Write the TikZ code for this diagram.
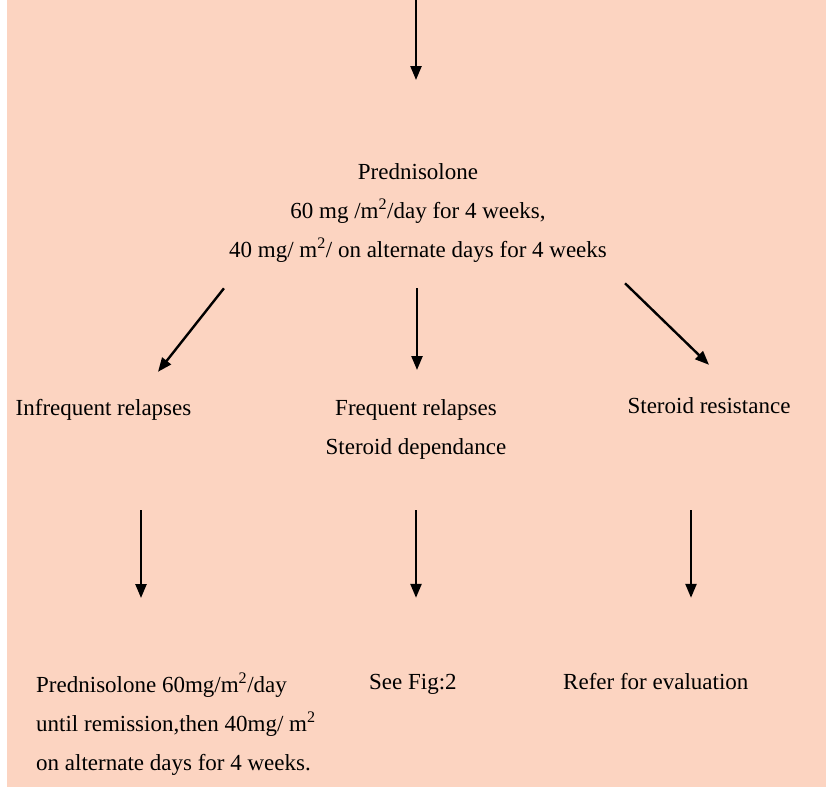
\documentclass[tikz,border=0pt]{standalone}
\definecolor{peachbg}{RGB}{252, 212, 193}
\usepackage{fontspec}
\setmainfont{Liberation Serif}
\usepackage{tikz}
\usetikzlibrary{arrows.meta}

\begin{document}
\begin{tikzpicture}[x=1pt, y=1pt,
    txt/.style={inner sep=0pt, font=\fontsize{23}{39}\selectfont},
    oneline/.style={txt, text height=16pt, text depth=5pt},
    arr/.style={-{Triangle[length=14pt, width=11pt]}, line width=2.4pt, black}]
      \useasboundingbox (0,0) rectangle (826,-787);
      \fill[peachbg] (7,0) rectangle (826,-787);

      \coordinate (entry) at (416,0);
      \node (pred) [txt, align=center, anchor=north] at (418,-163) {Prednisolone\\60 mg /m\textsuperscript{2}/day for 4 weeks,\\40 mg/ m\textsuperscript{2}/ on alternate days for 4 weeks};
      \node (infreq) [oneline, anchor=base] at (103.5,-415) {Infrequent relapses};
      \node (freq) [txt, align=center, anchor=north] at (416,-399) {Frequent relapses\\Steroid dependance};
      \node (resist) [oneline, anchor=base] at (709,-413) {Steroid resistance};
      \node (treat1) [txt, align=left, anchor=north west] at (36,-673) {Prednisolone 60mg/m\textsuperscript{2}/day\\until remission,then 40mg/ m\textsuperscript{2}\\on alternate days for 4 weeks.};
      \node (fig) [oneline, anchor=base west] at (369,-689) {See Fig:2};
      \node (refer) [oneline, anchor=base west] at (563,-689) {Refer for evaluation};

      \draw[arr] (entry) -- ([xshift=-2pt, yshift=83pt]pred.north);
      \draw[arr] ([xshift=-5pt, yshift=-26pt]pred.south west) -- ([xshift=54.5pt, yshift=27pt]infreq.north);
      \draw[arr] ([xshift=-1pt, yshift=-26pt]pred.south) -- ([xshift=1pt, yshift=29pt]freq.north);
      \draw[arr] ([xshift=18pt, yshift=-21pt]pred.south east) -- ([yshift=32pt]resist.north);
      \draw[arr, shorten >=75pt] ([xshift=37.5pt, yshift=-90pt]infreq.south) -- ([xshift=37.5pt]infreq.south |- treat1.north);
      \draw[arr, shorten >=75pt] ([yshift=-51pt]freq.south) -- (freq.south |- fig.north);
      \draw[arr, shorten >=75pt] ([xshift=-18pt, yshift=-92pt]resist.south) -- ([xshift=-18pt]resist.south |- refer.north);
    \end{tikzpicture}
\end{document}
